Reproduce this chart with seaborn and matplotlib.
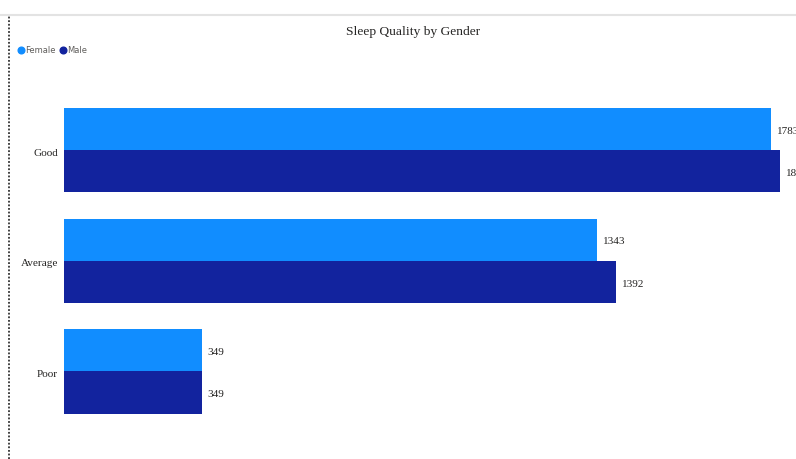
import matplotlib
matplotlib.use("Agg")
import matplotlib.pyplot as plt
import matplotlib.transforms as mtransforms
import seaborn as sns
import pandas as pd
from matplotlib.lines import Line2D

categories = ["Good", "Average", "Poor"]
genders = ["Female", "Male"]
female_counts = [1783, 1343, 349]
male_counts = [1806, 1392, 349]
colors = {"Female": "#118DFF", "Male": "#12239E"}

df = pd.DataFrame({
    "Quality": categories * 2,
    "Gender": ["Female"] * len(categories) + ["Male"] * len(categories),
    "Count": female_counts + male_counts,
})

sns.set_theme(style="white")
plt.rcParams["font.family"] = ["Liberation Serif", "DejaVu Serif"]

W, H = 796, 459
fig = plt.figure(figsize=(W / 100, H / 100), dpi=100)
left, right, top, bottom = 64, 796, 95, 440
ax = fig.add_axes([left / W, 1 - bottom / H, (right - left) / W, (bottom - top) / H])

sns.barplot(data=df, y="Quality", x="Count", hue="Gender", order=categories,
            hue_order=genders, palette=colors, saturation=1, width=0.76,
            orient="h", ax=ax, linewidth=0, legend=False)

ax.set_ylim(2.619, -0.497)
ax.set_xlim(0, 1846)
for s in ax.spines.values():
    s.set_visible(False)
ax.set_xticks([])
ax.set_xlabel("")
ax.set_ylabel("")
ax.tick_params(axis="y", length=0, pad=4.3, labelsize=8.1, labelcolor="#252423")

down2 = mtransforms.ScaledTranslation(0, -2 / 100, fig.dpi_scale_trans)
for lbl in ax.get_yticklabels():
    lbl.set_transform(lbl.get_transform() + down2)

for c in ax.containers:
    texts = ax.bar_label(c, padding=3.6, fontsize=8.1, color="#252423", clip_on=False)
    for t in texts:
        t.xyann = (3.6, -1.6)

fig.text(413 / W, 1 - 32 / H, "Sleep Quality by Gender", ha="center", va="center",
         fontsize=9.7, color="#252423")

handles = [Line2D([], [], marker="o", linestyle="", markersize=4.8,
                  markerfacecolor=colors[g], markeredgecolor=colors[g]) for g in genders]
fig.legend(handles, genders, loc="center left", bbox_to_anchor=(17 / W, 1 - 50.5 / H),
           ncol=2, frameon=False, prop={"family": "DejaVu Sans", "size": 6.0},
           handletextpad=0.05, columnspacing=0.45, handlelength=0.9,
           borderpad=0, borderaxespad=0, labelcolor="#605E5C")

fig.add_artist(Line2D([0, 1], [1 - 15 / H] * 2, transform=fig.transFigure,
                      color="#e3e3e3", lw=1.5))
fig.add_artist(Line2D([9 / W] * 2, [0, 1 - 16 / H], transform=fig.transFigure,
                      color="#333333", lw=1.3, linestyle=(0, (1, 1))))

fig.savefig("out.png", dpi=100)
